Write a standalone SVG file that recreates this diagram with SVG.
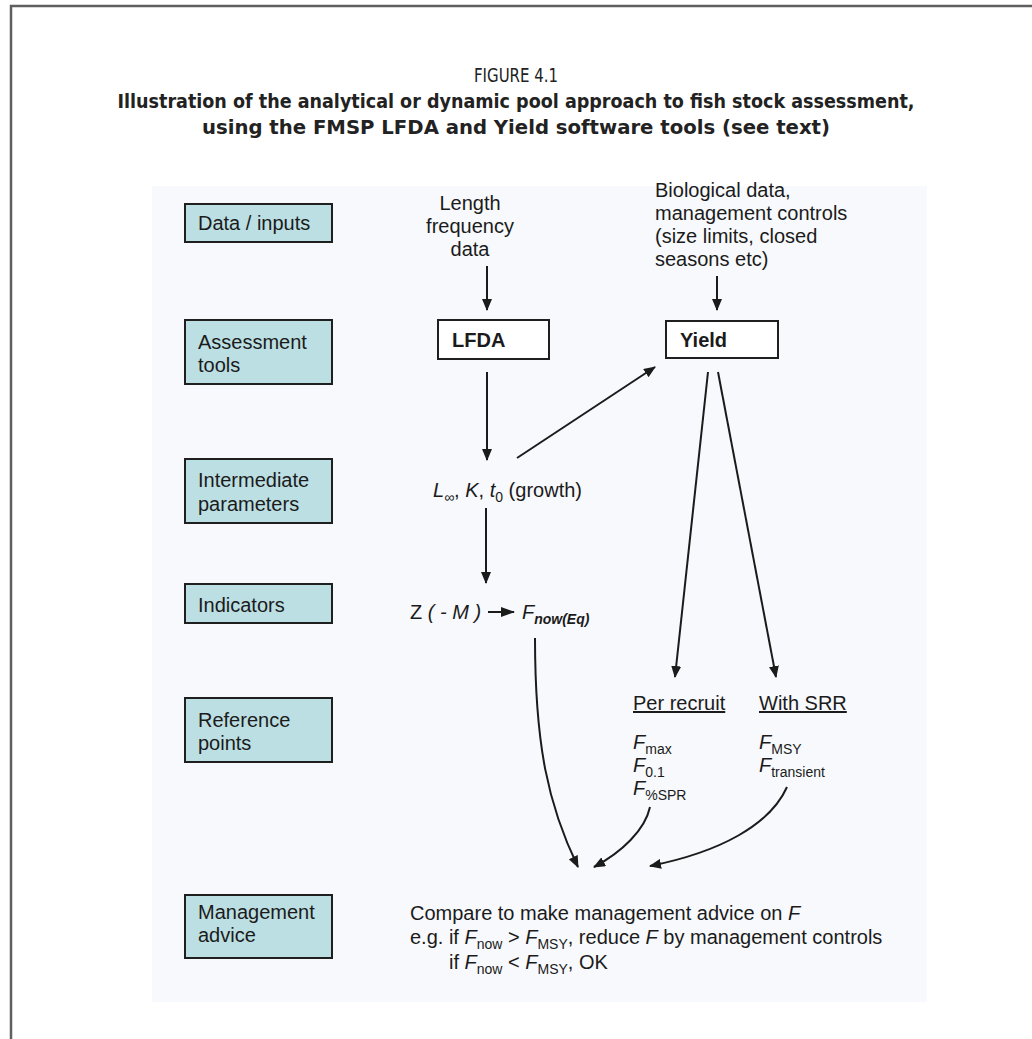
<svg xmlns="http://www.w3.org/2000/svg" width="1032" height="1039" viewBox="0 0 1032 1039">
<defs>
<style>
.ttl{font-family:"Liberation Sans Narrow","DejaVu Sans Condensed","Liberation Sans",sans-serif;font-stretch:condensed;font-size:20px;fill:#222;text-anchor:middle}
.t{font-family:"Liberation Sans",Arial,sans-serif;font-size:20px;fill:#1b1b1b}
.b{font-weight:bold}
.i{font-style:italic}
.s{font-size:14px}
.box{fill:#bcdfe3;stroke:#1f1f1f;stroke-width:2}
.wbox{fill:#ffffff;stroke:#1f1f1f;stroke-width:2}
.ln{stroke:#1b1b1b;stroke-width:2;fill:none}
.frame{stroke:#5f5f5f;stroke-width:2.5;fill:none}
</style>
<marker id="ah" markerUnits="userSpaceOnUse" markerWidth="12" markerHeight="10" refX="11" refY="5" orient="auto"><path d="M0,0 L12,5 L0,10 z" fill="#1b1b1b"/></marker>
<marker id="ahs" markerUnits="userSpaceOnUse" markerWidth="14" markerHeight="10" refX="13" refY="5" orient="auto"><path d="M0,0 L14,5 L0,10 z" fill="#1b1b1b"/></marker>
</defs>
<rect width="1032" height="1039" fill="#ffffff"/>
<path class="frame" d="M11,1039 V6 H1032"/>
<g id="title">
<text class="ttl" x="516" y="82" textLength="84" lengthAdjust="spacingAndGlyphs">FIGURE 4.1</text>
<text class="ttl b" x="516" y="108" textLength="797" lengthAdjust="spacingAndGlyphs">Illustration of the analytical or dynamic pool approach to fish stock assessment,</text>
<text class="ttl b" x="516" y="134" textLength="628" lengthAdjust="spacingAndGlyphs">using the FMSP LFDA and Yield software tools (see text)</text>
</g>
<rect id="panel" x="152" y="186" width="775" height="816" fill="#f7f9fc"/>
<g id="row-data"><rect class="box" x="185" y="204" width="147" height="38"/><text class="t" x="198" y="230">Data / inputs</text></g>
<g id="row-assessment"><rect class="box" x="185" y="320" width="147" height="64"/><text class="t" x="198" y="349">Assessment</text><text class="t" x="198" y="372">tools</text></g>
<g id="row-intermediate"><rect class="box" x="185" y="459" width="147" height="64"/><text class="t" x="198" y="487">Intermediate</text><text class="t" x="198" y="511">parameters</text></g>
<g id="row-indicators"><rect class="box" x="185" y="584" width="147" height="39"/><text class="t" x="198" y="612">Indicators</text></g>
<g id="row-reference"><rect class="box" x="185" y="698" width="147" height="64"/><text class="t" x="198" y="727">Reference</text><text class="t" x="198" y="750">points</text></g>
<g id="row-management"><rect class="box" x="185" y="895" width="147" height="63"/><text class="t" x="198" y="919">Management</text><text class="t" x="198" y="942">advice</text></g>
<g id="length-data"><text class="t" x="470" y="210" text-anchor="middle">Length</text><text class="t" x="470" y="233" text-anchor="middle">frequency</text><text class="t" x="470" y="256" text-anchor="middle">data</text></g>
<g id="bio-data"><text class="t" x="655" y="197">Biological data,</text><text class="t" x="655" y="220">management controls</text><text class="t" x="655" y="243">(size limits, closed</text><text class="t" x="655" y="266">seasons etc)</text></g>
<g id="lfda"><rect class="wbox" x="438" y="320" width="111" height="39"/><text class="t b" x="452" y="347">LFDA</text></g>
<g id="yield"><rect class="wbox" x="666" y="321" width="112" height="37"/><text class="t b" x="680" y="347">Yield</text></g>
<g id="growth"><text class="t" x="433" y="497"><tspan class="i">L</tspan><tspan class="s" dy="5">∞</tspan><tspan dy="-5">, </tspan><tspan class="i">K</tspan>, <tspan class="i">t</tspan><tspan class="s" dy="5">0</tspan><tspan dy="-5"> (growth)</tspan></text></g>
<g id="indicator"><text class="t" x="410" y="619">Z <tspan class="i">( - M )</tspan></text><path class="ln" d="M488,612 H514" stroke-width="2.5" marker-end="url(#ahs)"/><text class="t" x="522" y="619"><tspan class="i">F</tspan><tspan class="s i b" dy="5">now(Eq)</tspan></text></g>
<g id="per-recruit"><text class="t" x="633" y="710" text-decoration="underline">Per recruit</text>
<text class="t" x="633" y="749"><tspan class="i">F</tspan><tspan class="s" dy="5">max</tspan></text>
<text class="t" x="633" y="772"><tspan class="i">F</tspan><tspan class="s" dy="5">0.1</tspan></text>
<text class="t" x="633" y="795"><tspan class="i">F</tspan><tspan class="s" dy="5">%SPR</tspan></text></g>
<g id="with-srr"><text class="t" x="759" y="710" text-decoration="underline">With SRR</text>
<text class="t" x="759" y="749"><tspan class="i">F</tspan><tspan class="s" dy="5">MSY</tspan></text>
<text class="t" x="759" y="772"><tspan class="i">F</tspan><tspan class="s" dy="5">transient</tspan></text></g>
<g id="advice">
<text class="t" x="410" y="920">Compare to make management advice on <tspan class="i">F</tspan></text>
<text class="t" x="410" y="944">e.g. if <tspan class="i">F</tspan><tspan class="s" dy="5">now</tspan><tspan dy="-5"> &gt; </tspan><tspan class="i">F</tspan><tspan class="s" dy="5">MSY</tspan><tspan dy="-5">, reduce </tspan><tspan class="i">F</tspan> by management controls</text>
<text class="t" x="449" y="969">if <tspan class="i">F</tspan><tspan class="s" dy="5">now</tspan><tspan dy="-5"> &lt; </tspan><tspan class="i">F</tspan><tspan class="s" dy="5">MSY</tspan><tspan dy="-5">, OK</tspan></text>
</g>
<g id="connectors">
<path class="ln" d="M487,266 V310" marker-end="url(#ah)"/>
<path class="ln" d="M717,276 V310" marker-end="url(#ah)"/>
<path class="ln" d="M487,372 V460" marker-end="url(#ah)"/>
<path class="ln" d="M517,458 L655,367" marker-end="url(#ah)"/>
<path class="ln" d="M486,508 V583" marker-end="url(#ah)"/>
<path class="ln" d="M708,372 L675,677" marker-end="url(#ah)"/>
<path class="ln" d="M718,372 L776,677" marker-end="url(#ah)"/>
<path class="ln" d="M535,638 C535,745 548,805 578,867" marker-end="url(#ah)"/>
<path class="ln" d="M650,807 C645,830 622,852 594,867" marker-end="url(#ah)"/>
<path class="ln" d="M787,787 C770,825 720,852 650,866" marker-end="url(#ah)"/>
</g>
</svg>
